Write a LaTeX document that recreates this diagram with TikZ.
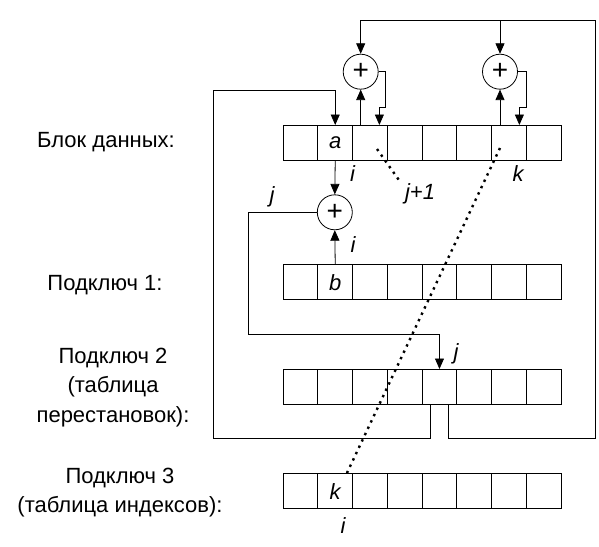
\documentclass[tikz,border=0pt]{standalone}
\usepackage{fontspec}
\setmainfont{Liberation Sans}
\usetikzlibrary{arrows.meta}
\begin{document}
\begin{tikzpicture}[x=1pt,y=-1pt, line width=0.8pt,
  cell/.style={draw, minimum width=34.75pt, minimum height=35pt, inner sep=0pt, anchor=north west},
  adder/.style={draw, circle, minimum size=35pt, inner sep=0pt, font=\fontsize{28}{28}\selectfont},
  lbl/.style={font=\fontsize{22}{29.5}\selectfont, align=center, inner sep=0pt},
  var/.style={font=\fontsize{22}{22}\selectfont\itshape, inner sep=0pt},
  arr/.style={-{Triangle[length=10.5pt,width=9pt]}},
  dots/.style={line width=2.4pt, dash pattern=on 2.4pt off 4.6pt},
]
\useasboundingbox (0,0) rectangle (599,546);
% cell rows
\foreach \row/\ytop in {1/125,2/264.3,3/369,4/473.3}{
  \foreach \col in {1,...,8}{
    \node[cell] (r\row c\col) at ({282.7+(\col-1)*34.75},\ytop) {};
  }
}
\node[var] (ta) at (r1c2.center) {a};
\node[var] (tb) at (r2c2.center) {b};
\node[var] (tk) at (r4c2.center) {k};
% adders
\node[adder] (s1) at (360.7,71.7) {+};
\node[adder] (s2) at (500,71.7) {+};
\node[adder] (s3) at (334.8,212.3) {+};
% left labels
\node[lbl] (L1) at (106,142) {Блок данных:};
\node[lbl] (L2) at (105,285) {Подключ 1:};
\node[lbl] (L3) at (113,387.5) {Подключ 2\\(таблица\\перестановок):};
\node[lbl] (L4) at (120,492.5) {Подключ 3\\(таблица индексов):};
% loop coordinates
\coordinate (loopTop) at (595.7,20.7);
\coordinate (loopBot) at (595.7,438.3);
\coordinate (leftBot) at (213.3,438.3);
\coordinate (leftTop) at (213.3,90);
% outer right loop
\draw[arr] ([xshift=8.7pt]r3c5.south) |- (loopBot) -- (loopTop) -| (s1.north);
\draw[arr] (s2.north |- loopTop) -- (s2.north);
% outer left loop
\draw[arr] ([xshift=-8.7pt]r3c5.south) |- (leftBot) -- (leftTop) -| (r1c2.north);
% adder 1
\draw[arr] (r1c3.north -| s1.south) -- (s1.south);
\coordinate (o1) at (385.7,107.3);
\draw[arr] (s1.east) -| (o1) -| ([xshift=9.4pt]r1c3.north);
% adder 2
\draw[arr] (r1c7.north -| s2.south) -- (s2.south);
\coordinate (o2) at (526,107.3);
\draw[arr] (s2.east) -| (o2) -| ([xshift=10.4pt]r1c7.north);
% adder 3
\draw[arr] (r1c2.south) -- (s3.north);
\draw[arr] (r2c2.north) -- (s3.south);
\coordinate (m3) at (248.3,334.3);
\draw[arr] (s3.west) -| (m3) -| (r3c5.north);
% dotted lines
\coordinate (d1a) at (377,149);
\coordinate (d1b) at (401,183);
\draw[dots] (d1a) -- (d1b);
\coordinate (d2a) at (500,148);
\coordinate (d2b) at (346.5,474);
\draw[dots] (d2a) -- (d2b);
% index labels
\node[var] (li1) at (352.5,174) {i};
\node[var] (ljp) at (420,194) {j+1};
\node[var] (lk1) at (518,174) {k};
\node[var] (lj1) at (272,197) {j};
\node[var] (li2) at (353,245) {i};
\node[var] (lj2) at (456,354) {j};
\node[var] (li3) at (343,526) {i};
\end{tikzpicture}
\end{document}
